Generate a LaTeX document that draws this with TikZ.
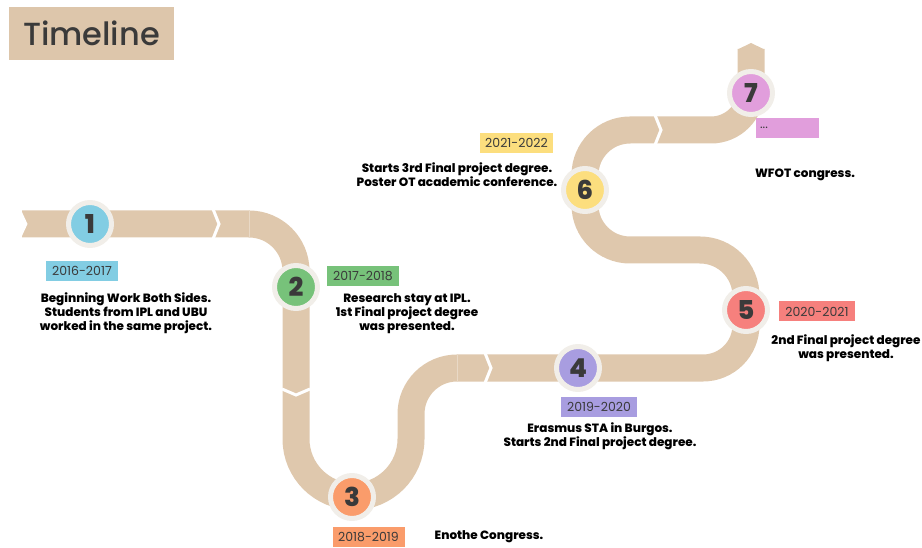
\documentclass[tikz,border=0pt]{standalone}
\usepackage{fontspec}
\setmainfont{Poppins}
\newfontfamily\titlefont{Poppins}[UprightFont=* Medium]
\newfontfamily\heavyfont{Poppins}[UprightFont=* ExtraBold]
\usepackage{tikz}

\definecolor{road}{HTML}{DFC8AD}
\definecolor{seamc}{HTML}{E9D9C6}
\definecolor{ring}{HTML}{F1EEE9}
\definecolor{ink}{HTML}{3A3A3A}
\definecolor{titlebox}{HTML}{DDC6AB}
\definecolor{cone}{HTML}{82CDE3}
\definecolor{ctwo}{HTML}{77C27A}
\definecolor{cthree}{HTML}{FA9C6B}
\definecolor{cfour}{HTML}{A89DE0}
\definecolor{cfive}{HTML}{F6807D}
\definecolor{csix}{HTML}{FCDE7E}
\definecolor{cseven}{HTML}{E19EDC}

\begin{document}
\begin{tikzpicture}[x=1pt,y=-1pt,
  every node/.style={inner sep=0pt},
  stop/.style={circle, draw=ring, line width=5pt, minimum size=43pt,
    font=\heavyfont\fontsize{26}{26}\selectfont, text=ink},
  year/.style={minimum width=72pt, minimum height=20pt,
    font=\fontsize{12.5}{13}\selectfont, text=ink},
  note/.style={align=center, font=\heavyfont\fontsize{12}{14}\selectfont, text=black},
  gap/.style={draw=white, line width=3pt},
  seam/.style={draw=seamc, line width=0.8pt}]
\useasboundingbox (0,0) rectangle (922,548);

% title
\node[fill=titlebox, minimum width=165pt, minimum height=53pt,
  font=\titlefont\fontsize{32}{32}\selectfont, text=ink] (title) at (91.5,33.5) {Timeline};

% road
\draw[draw=road, line width=27pt]
  (22,224) -- (249,224) arc[start angle=-90, end angle=0, radius=47]
  -- (296,439) arc[start angle=180, end angle=0, radius=57.5]
  -- (411,414) arc[start angle=180, end angle=270, radius=46]
  -- (703,368) arc[start angle=90, end angle=0, radius=43]
  -- (746,296) arc[start angle=0, end angle=-90, radius=46]
  -- (630,250) arc[start angle=90, end angle=180, radius=45]
  -- (585,175) arc[start angle=180, end angle=270, radius=45]
  -- (711,130) arc[start angle=90, end angle=0, radius=40]
  -- (751,49);
\fill[road] (737.5,49.5) -- (751,43) -- (764.5,49.5) -- cycle;
\fill[white] (21,210) -- (27.5,224) -- (21,238) -- cycle;
\draw[seam] (249,210.5) -- (249,237.5);
\draw[seam] (457,354.5) -- (457,381.5);
\draw[gap] (213,209) -- (219,224) -- (213,239);
\draw[gap] (282,389) -- (296,395) -- (310,389);
\draw[gap] (485,353) -- (491,368) -- (485,383);
\draw[gap] (655,115) -- (661,130) -- (655,145);

% stops
\node[stop, fill=cone] (n1) at (90,224) {1};
\node[stop, fill=ctwo] (n2) at (296,287) {2};
\node[stop, fill=cthree] (n3) at (352,497) {3};
\node[stop, fill=cfour] (n4) at (578,368) {4};
\node[stop, fill=cfive] (n5) at (746,310) {5};
\node[stop, fill=csix] (n6) at (585,190) {6};
\node[stop, fill=cseven] (n7) at (751,93) {7};

% years
\node[year, fill=cone] (y1) at (82,271) {2016-2017};
\node[year, fill=ctwo] (y2) at (363,276.5) {2017-2018};
\node[year, fill=cthree] (y3) at (368.5,537) {2018-2019};
\node[year, fill=cfour, minimum width=76pt] (y4) at (599,406.5) {2019-2020};
\node[year, fill=cfive, minimum width=76pt] (y5) at (817,311.5) {2020-2021};
\node[year, fill=csix, minimum width=73pt] (y6) at (516.5,143) {2021-2022};
\node[year, fill=cseven, minimum width=63pt, text width=55pt, inner xsep=4pt,
  align=left] (y7) at (787.5,128) {...};

% notes
\node[note] (d1) at (126,313) {Beginning Work Both Sides.\\Students from IPL and UBU\\worked in the same project.};
\node[note] (d2) at (407,313.5) {Research stay at IPL.\\1st Final project degree\\was presented.};
\node[note] (d3) at (489,537) {Enothe Congress.};
\node[note] (d4) at (600,436.5) {Erasmus STA in Burgos.\\Starts 2nd Final project degree.};
\node[note] (d5) at (846,348) {2nd Final project degree\\was presented.};
\node[note] (d6) at (457,174.5) {Starts 3rd Final project degree.\\Poster OT academic conference.};
\node[note] (d7) at (805,175) {WFOT congress.};
\end{tikzpicture}
\end{document}
